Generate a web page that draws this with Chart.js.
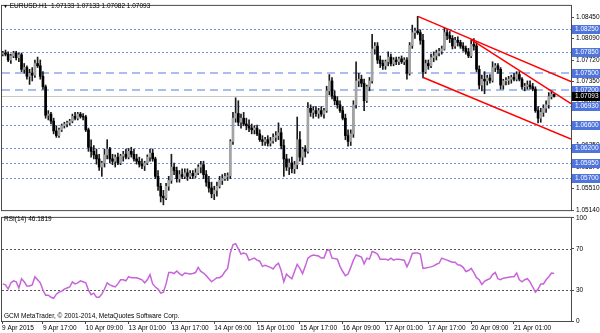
<!DOCTYPE html>
<html>
<head>
<meta charset="utf-8">
<script src="https://cdn.jsdelivr.net/npm/chart.js@4.4.1/dist/chart.umd.min.js"></script>
<style>
  html, body { margin: 0; padding: 0; background: #fff; }
  #wrap { position: relative; width: 600px; height: 333px; overflow: hidden;
          font-family: "Liberation Sans", Arial, sans-serif; }
  #cMain { position: absolute; left: 0; top: 0; }
  #cRsi  { position: absolute; left: 0; top: 212px; }
  .txt { position: absolute; font-size: 6.5px; line-height: 8px; color: #000; white-space: nowrap; }
</style>
</head>
<body>
<div id="wrap">
  <canvas id="cMain" width="600" height="216"></canvas>
  <canvas id="cRsi" width="600" height="121"></canvas>
  <div class="txt" style="left:3px;top:2px;"><span style="font-size:5px;">&#9660;</span> EURUSD.H1&nbsp; 1.07133 1.07133 1.07082 1.07093</div>
  <div class="txt" style="left:4px;top:215px;">RSI(14) 46.1819</div>
  <div class="txt" style="left:4px;top:312px;">GCM MetaTrader, © 2001-2014, MetaQuotes Software Corp.</div>
</div>
<script>
// EURUSD H1, 9 Apr -> 21 Apr 2015, una candela per ora (indice 0..206)
const opens = [
  1.0782, 1.0784, 1.0782, 1.0772, 1.0779, 1.0784, 1.0776, 1.0781, 1.0756, 1.0759,
  1.0744, 1.0749, 1.0746, 1.0766, 1.0762, 1.0744, 1.0726, 1.0677, 1.0679, 1.0667,
  1.0650, 1.0642, 1.0652, 1.0659, 1.0662, 1.0664, 1.0667, 1.0675, 1.0672, 1.0679,
  1.0675, 1.0674, 1.0652, 1.0622, 1.0615, 1.0609, 1.0602, 1.0588, 1.0595, 1.0609,
  1.0619, 1.0602, 1.0598, 1.0605, 1.0595, 1.0607, 1.0610, 1.0605, 1.0615, 1.0610,
  1.0602, 1.0598, 1.0593, 1.0590, 1.0595, 1.0605, 1.0612, 1.0602, 1.0572, 1.0555,
  1.0538, 1.0535, 1.0555, 1.0565, 1.0588, 1.0582, 1.0568, 1.0575, 1.0572, 1.0578,
  1.0572, 1.0577, 1.0573, 1.0578, 1.0588, 1.0592, 1.0575, 1.0562, 1.0552, 1.0542,
  1.0548, 1.0555, 1.0565, 1.0568, 1.0572, 1.0573, 1.0632, 1.0672, 1.0680, 1.0665,
  1.0672, 1.0662, 1.0659, 1.0655, 1.0652, 1.0655, 1.0645, 1.0635, 1.0632, 1.0635,
  1.0629, 1.0633, 1.0639, 1.0642, 1.0647, 1.0625, 1.0602, 1.0588, 1.0595, 1.0585,
  1.0592, 1.0635, 1.0605, 1.0619, 1.0615, 1.0689, 1.0682, 1.0685, 1.0680, 1.0685,
  1.0679, 1.0685, 1.0719, 1.0736, 1.0710, 1.0702, 1.0695, 1.0685, 1.0672, 1.0642,
  1.0632, 1.0645, 1.0695, 1.0736, 1.0739, 1.0732, 1.0702, 1.0726, 1.0736, 1.0791,
  1.0796, 1.0772, 1.0766, 1.0762, 1.0769, 1.0777, 1.0766, 1.0772, 1.0769, 1.0774,
  1.0769, 1.0772, 1.0749, 1.0797, 1.0819, 1.0822, 1.0819, 1.0806, 1.0752, 1.0766,
  1.0762, 1.0776, 1.0779, 1.0784, 1.0787, 1.0791, 1.0819, 1.0814, 1.0809, 1.0796,
  1.0806, 1.0802, 1.0796, 1.0792, 1.0786, 1.0779, 1.0799, 1.0796, 1.0756, 1.0729,
  1.0739, 1.0736, 1.0741, 1.0737, 1.0759, 1.0762, 1.0756, 1.0729, 1.0736, 1.0737,
  1.0739, 1.0742, 1.0739, 1.0747, 1.0739, 1.0726, 1.0727, 1.0729, 1.0726, 1.0722,
  1.0685, 1.0672, 1.0682, 1.0689, 1.0695, 1.0709, 1.07133
];
const highs = [
  1.0787, 1.0789, 1.0786, 1.0782, 1.0787, 1.0787, 1.0784, 1.0784, 1.0766, 1.0762,
  1.0756, 1.0759, 1.0772, 1.0777, 1.0772, 1.0752, 1.0729, 1.0685, 1.0682, 1.0672,
  1.0659, 1.0655, 1.0662, 1.0665, 1.0667, 1.0670, 1.0679, 1.0682, 1.0682, 1.0682,
  1.0680, 1.0677, 1.0655, 1.0635, 1.0625, 1.0619, 1.0610, 1.0598, 1.0619, 1.0635,
  1.0622, 1.0610, 1.0609, 1.0612, 1.0610, 1.0615, 1.0619, 1.0620, 1.0622, 1.0619,
  1.0610, 1.0605, 1.0602, 1.0598, 1.0609, 1.0619, 1.0619, 1.0605, 1.0582, 1.0560,
  1.0548, 1.0560, 1.0572, 1.0610, 1.0595, 1.0588, 1.0582, 1.0585, 1.0585, 1.0585,
  1.0582, 1.0582, 1.0585, 1.0592, 1.0598, 1.0598, 1.0582, 1.0572, 1.0562, 1.0555,
  1.0562, 1.0572, 1.0575, 1.0577, 1.0578, 1.0635, 1.0682, 1.0707, 1.0702, 1.0679,
  1.0682, 1.0672, 1.0669, 1.0662, 1.0659, 1.0660, 1.0652, 1.0642, 1.0639, 1.0642,
  1.0639, 1.0645, 1.0649, 1.0664, 1.0655, 1.0635, 1.0610, 1.0602, 1.0605, 1.0598,
  1.0674, 1.0649, 1.0622, 1.0625, 1.0699, 1.0695, 1.0692, 1.0692, 1.0689, 1.0692,
  1.0689, 1.0727, 1.0747, 1.0742, 1.0719, 1.0709, 1.0702, 1.0692, 1.0679, 1.0652,
  1.0652, 1.0702, 1.0769, 1.0749, 1.0746, 1.0739, 1.0729, 1.0742, 1.0816, 1.0802,
  1.0802, 1.0779, 1.0772, 1.0772, 1.0786, 1.0782, 1.0776, 1.0777, 1.0777, 1.0779,
  1.0776, 1.0776, 1.0802, 1.0832, 1.0827, 1.0847, 1.0824, 1.0816, 1.0772, 1.0772,
  1.0782, 1.0786, 1.0789, 1.0792, 1.0796, 1.0827, 1.0824, 1.0821, 1.0814, 1.0811,
  1.0812, 1.0806, 1.0802, 1.0796, 1.0792, 1.0807, 1.0809, 1.0802, 1.0762, 1.0746,
  1.0752, 1.0746, 1.0747, 1.0769, 1.0766, 1.0766, 1.0759, 1.0739, 1.0742, 1.0744,
  1.0746, 1.0749, 1.0752, 1.0752, 1.0742, 1.0732, 1.0736, 1.0736, 1.0732, 1.0726,
  1.0692, 1.0689, 1.0695, 1.0702, 1.0716, 1.0719, 1.07133
];
const lows = [
  1.0779, 1.0779, 1.0769, 1.0766, 1.0776, 1.0772, 1.0769, 1.0752, 1.0749, 1.0739,
  1.0730, 1.0736, 1.0742, 1.0759, 1.0739, 1.0722, 1.0672, 1.0669, 1.0662, 1.0645,
  1.0639, 1.0639, 1.0649, 1.0655, 1.0657, 1.0660, 1.0664, 1.0669, 1.0669, 1.0672,
  1.0669, 1.0649, 1.0615, 1.0605, 1.0602, 1.0593, 1.0582, 1.0572, 1.0588, 1.0602,
  1.0595, 1.0592, 1.0588, 1.0592, 1.0592, 1.0598, 1.0602, 1.0602, 1.0605, 1.0598,
  1.0593, 1.0588, 1.0585, 1.0582, 1.0592, 1.0598, 1.0598, 1.0568, 1.0548, 1.0528,
  1.0523, 1.0532, 1.0548, 1.0560, 1.0575, 1.0562, 1.0562, 1.0568, 1.0568, 1.0565,
  1.0568, 1.0568, 1.0570, 1.0575, 1.0578, 1.0568, 1.0555, 1.0545, 1.0535, 1.0532,
  1.0538, 1.0552, 1.0558, 1.0565, 1.0565, 1.0568, 1.0627, 1.0665, 1.0659, 1.0655,
  1.0659, 1.0652, 1.0649, 1.0645, 1.0645, 1.0642, 1.0632, 1.0625, 1.0625, 1.0624,
  1.0624, 1.0629, 1.0632, 1.0635, 1.0619, 1.0572, 1.0582, 1.0575, 1.0578, 1.0577,
  1.0585, 1.0598, 1.0592, 1.0605, 1.0612, 1.0675, 1.0672, 1.0675, 1.0672, 1.0675,
  1.0672, 1.0682, 1.0712, 1.0705, 1.0695, 1.0689, 1.0682, 1.0669, 1.0635, 1.0624,
  1.0625, 1.0639, 1.0689, 1.0726, 1.0726, 1.0685, 1.0699, 1.0719, 1.0732, 1.0782,
  1.0766, 1.0759, 1.0756, 1.0756, 1.0762, 1.0762, 1.0762, 1.0764, 1.0764, 1.0766,
  1.0764, 1.0739, 1.0746, 1.0792, 1.0809, 1.0816, 1.0799, 1.0741, 1.0749, 1.0756,
  1.0759, 1.0769, 1.0772, 1.0779, 1.0782, 1.0789, 1.0807, 1.0802, 1.0791, 1.0792,
  1.0796, 1.0792, 1.0787, 1.0782, 1.0776, 1.0776, 1.0789, 1.0752, 1.0722, 1.0719,
  1.0714, 1.0729, 1.0732, 1.0734, 1.0752, 1.0749, 1.0722, 1.0722, 1.0729, 1.0730,
  1.0732, 1.0736, 1.0736, 1.0736, 1.0722, 1.0719, 1.0722, 1.0722, 1.0719, 1.0682,
  1.0664, 1.0665, 1.0675, 1.0682, 1.0689, 1.0705, 1.07082
];
const closes = [
  1.0784, 1.0782, 1.0772, 1.0779, 1.0784, 1.0776, 1.0781, 1.0756, 1.0759, 1.0744,
  1.0749, 1.0746, 1.0766, 1.0762, 1.0744, 1.0726, 1.0677, 1.0679, 1.0667, 1.0650,
  1.0642, 1.0652, 1.0659, 1.0662, 1.0664, 1.0667, 1.0675, 1.0672, 1.0679, 1.0675,
  1.0674, 1.0652, 1.0622, 1.0615, 1.0609, 1.0602, 1.0588, 1.0595, 1.0609, 1.0619,
  1.0602, 1.0598, 1.0605, 1.0595, 1.0607, 1.0610, 1.0605, 1.0615, 1.0610, 1.0602,
  1.0598, 1.0593, 1.0590, 1.0595, 1.0605, 1.0612, 1.0602, 1.0572, 1.0555, 1.0538,
  1.0535, 1.0555, 1.0565, 1.0588, 1.0582, 1.0568, 1.0575, 1.0572, 1.0578, 1.0572,
  1.0577, 1.0573, 1.0578, 1.0588, 1.0592, 1.0575, 1.0562, 1.0552, 1.0542, 1.0548,
  1.0555, 1.0565, 1.0568, 1.0572, 1.0573, 1.0632, 1.0672, 1.0680, 1.0665, 1.0672,
  1.0662, 1.0659, 1.0655, 1.0652, 1.0655, 1.0645, 1.0635, 1.0632, 1.0635, 1.0629,
  1.0633, 1.0639, 1.0642, 1.0647, 1.0625, 1.0602, 1.0588, 1.0595, 1.0585, 1.0592,
  1.0635, 1.0605, 1.0619, 1.0615, 1.0689, 1.0682, 1.0685, 1.0680, 1.0685, 1.0679,
  1.0685, 1.0719, 1.0736, 1.0710, 1.0702, 1.0695, 1.0685, 1.0672, 1.0642, 1.0632,
  1.0645, 1.0695, 1.0736, 1.0739, 1.0732, 1.0702, 1.0726, 1.0736, 1.0791, 1.0796,
  1.0772, 1.0766, 1.0762, 1.0769, 1.0777, 1.0766, 1.0772, 1.0769, 1.0774, 1.0769,
  1.0772, 1.0749, 1.0797, 1.0819, 1.0822, 1.0819, 1.0806, 1.0752, 1.0766, 1.0762,
  1.0776, 1.0779, 1.0784, 1.0787, 1.0791, 1.0819, 1.0814, 1.0809, 1.0796, 1.0806,
  1.0802, 1.0796, 1.0792, 1.0786, 1.0779, 1.0799, 1.0796, 1.0756, 1.0729, 1.0739,
  1.0736, 1.0741, 1.0737, 1.0759, 1.0762, 1.0756, 1.0729, 1.0736, 1.0737, 1.0739,
  1.0742, 1.0739, 1.0747, 1.0739, 1.0726, 1.0727, 1.0729, 1.0726, 1.0722, 1.0685,
  1.0672, 1.0682, 1.0689, 1.0695, 1.0709, 1.07133, 1.07093
];
const rsiValues = [
  36, 35, 31, 37, 39, 38, 32, 41, 38, 34,
  34, 35, 43, 40, 37, 30, 25, 25, 23, 22,
  26, 28, 29, 31, 32, 33, 38, 36, 37, 39,
  38, 37, 30, 25.5, 27, 23, 23, 26, 31, 37,
  35, 34, 33, 36, 40, 40, 39, 43, 42, 42,
  42, 41, 40, 37, 40, 45, 36, 33, 31, 27,
  28, 36, 47, 47, 46, 48.5, 46, 44, 46.5, 46,
  45.5, 46, 47, 52, 48, 46.5, 44, 41, 38, 40,
  42, 42, 44, 48, 51, 66, 74, 75, 70, 65,
  66, 65, 59, 60, 61, 59, 58, 53, 54, 53,
  52, 50.5, 54, 56, 49, 38, 45.5, 43, 41, 48,
  55, 51, 46, 53, 61, 63, 64, 63.5, 63, 61,
  61, 68, 69, 61, 60.5, 60, 53, 48, 44, 45.5,
  52, 59, 64, 63, 62, 55.5, 61, 60, 67.5, 66.5,
  65, 60, 60, 60, 59, 61, 59, 60, 60, 59.5,
  59, 52.5, 58, 65.5, 66, 66, 65, 51, 51.5, 52,
  52.5, 53.5, 55, 56, 61, 60, 59, 58, 57, 57,
  54.5, 54, 52, 48, 49, 51, 47, 42, 40, 35.5,
  38.5, 40, 41, 45, 47, 41, 40, 41.5, 42, 42.5,
  43, 43, 46.5, 40, 38, 40, 41, 38, 33, 28,
  31, 36, 36, 40, 43, 46.5, 46.1819
];

// asse tempo: posizione (indice candela) e testo delle etichette
const timeTickPos = [-0.3, 15, 31, 47, 63, 79, 95, 111, 127, 143, 159, 175, 191];
const timeTickLabels = ['9 Apr 2015', '9 Apr 17:00', '10 Apr 09:00', '13 Apr 01:00', '13 Apr 17:00',
  '14 Apr 09:00', '15 Apr 01:00', '15 Apr 17:00', '16 Apr 09:00', '17 Apr 01:00',
  '17 Apr 17:00', '20 Apr 09:00', '21 Apr 01:00'];

// asse prezzi
const priceTicks = [1.0845, 1.0809, 1.0772, 1.0735, 1.0698, 1.0661, 1.0625, 1.0587, 1.0551, 1.0514];
const dottedLevels = [1.0825, 1.0785, 1.0693, 1.0660, 1.0620, 1.0595, 1.0570];
const dashedLevels = [1.0750, 1.0720];
const lastPrice = 1.07093;
const rsiTicks = [0, 30, 70, 100];
const rsiLevels = [30, 70];

// linee di tendenza (indice candela, prezzo)
const trendUpper = [{ x: 155.1, y: 1.0847 }, { x: 212.3, y: 1.0735 }];
const trendSteep = [{ x: 175, y: 1.0807 }, { x: 212.3, y: 1.0697 }];
const trendLower = [{ x: 157.1, y: 1.0742 }, { x: 212.3, y: 1.0636 }];

const X_MIN = -0.3, X_MAX = 212.3;
const PRICE_MIN = 1.0514, PRICE_MAX = 1.0865;

const BULL = '#a3a3a3';
const BEAR = '#000000';
const WICK = '#1a1a1a';
const FRAME = '#4a4a4a';
const FONT = '"Liberation Sans", Arial, sans-serif';

Chart.defaults.font.family = FONT;
Chart.defaults.font.size = 6.5;
Chart.defaults.color = '#000';
Chart.defaults.animation = false;

// linee orizzontali (livelli) dentro l'area del grafico
const levelLines = {
  id: 'levelLines',
  beforeDatasetsDraw(chart, args, opts) {
    const { ctx, chartArea: a, scales: { y } } = chart;
    ctx.save();
    ctx.beginPath();
    ctx.rect(a.left, a.top, a.right - a.left, a.bottom - a.top);
    ctx.clip();
    for (const lv of opts.lines) {
      const w = lv.width;
      const py = Math.round(y.getPixelForValue(lv.value)) + (w % 2 ? 0.5 : 0);
      ctx.strokeStyle = lv.color;
      ctx.lineWidth = w;
      ctx.setLineDash(lv.dash);
      ctx.beginPath();
      ctx.moveTo(a.left, py);
      ctx.lineTo(a.right, py);
      ctx.stroke();
    }
    ctx.restore();
  },
  afterDraw(chart, args, opts) {
    // etichette evidenziate sull'asse destro
    const { ctx, scales: { y } } = chart;
    ctx.save();
    ctx.font = '6.5px ' + FONT;
    ctx.textBaseline = 'middle';
    for (const b of opts.boxes || []) {
      const py = Math.round(y.getPixelForValue(b.value));
      ctx.fillStyle = b.bg;
      ctx.fillRect(y.left + 1, py - 4, y.right - y.left - 1, 9);
      ctx.fillStyle = '#fff';
      ctx.fillText(b.value.toFixed(5), y.left + 4, py + 0.5);
    }
    ctx.restore();
  }
};

// cornice del pannello
const frame = {
  id: 'frame',
  afterDraw(chart) {
    const { ctx, chartArea: a } = chart;
    ctx.save();
    ctx.strokeStyle = FRAME;
    ctx.lineWidth = 1;
    ctx.strokeRect(a.left - 0.5, a.top - 0.5, a.right - a.left + 1, a.bottom - a.top + 1);
    ctx.restore();
  }
};

const idx = closes.map((_, i) => i);
const bodyColors = closes.map((c, i) => (c >= opens[i] ? BULL : BEAR));

const levelDefs = [
  ...dottedLevels.map(v => ({ value: v, color: '#6f8fe8', width: 1, dash: [2, 2] })),
  ...dashedLevels.map(v => ({ value: v, color: '#aabdf0', width: 2, dash: [8, 5] })),
  { value: lastPrice, color: '#c8c8c8', width: 1, dash: [] }
];
const boxDefs = [
  ...dottedLevels.map(v => ({ value: v, bg: '#4f74dc' })),
  ...dashedLevels.map(v => ({ value: v, bg: '#4f74dc' })),
  { value: lastPrice, bg: '#000' }
];

const redLine = (data) => ({
  type: 'line', data, borderColor: '#ff0000', borderWidth: 1.5,
  pointRadius: 0, fill: false, order: 0
});

new Chart(document.getElementById('cMain'), {
  type: 'bar',
  data: {
    datasets: [
      redLine(trendUpper),
      redLine(trendSteep),
      redLine(trendLower),
      {
        label: 'body',
        data: idx.map(i => ({ x: i, y: [opens[i], closes[i]] })),
        backgroundColor: bodyColors,
        borderWidth: 0,
        barThickness: 2,
        grouped: false,
        order: 1
      },
      {
        label: 'wick',
        data: idx.map(i => ({ x: i, y: [lows[i], highs[i]] })),
        backgroundColor: WICK,
        borderWidth: 0,
        barThickness: 1,
        grouped: false,
        order: 2
      }
    ]
  },
  options: {
    responsive: false,
    animation: false,
    events: [],
    layout: { padding: { left: 2, top: 2, right: 0, bottom: 4 } },
    plugins: {
      legend: { display: false },
      tooltip: { enabled: false },
      levelLines: { lines: levelDefs, boxes: boxDefs }
    },
    scales: {
      x: { type: 'linear', min: X_MIN, max: X_MAX, offset: false, display: false, grid: { offset: false } },
      y: {
        type: 'linear', position: 'right', min: PRICE_MIN, max: PRICE_MAX,
        afterFit: s => { s.width = 29; },
        afterBuildTicks: s => { s.ticks = priceTicks.map(v => ({ value: v })); },
        ticks: { autoSkip: false, padding: 2, callback: v => v.toFixed(5) },
        grid: { drawOnChartArea: false, drawTicks: true, tickLength: 3, color: FRAME },
        border: { display: false }
      }
    }
  },
  plugins: [levelLines, frame]
});

new Chart(document.getElementById('cRsi'), {
  type: 'line',
  data: {
    datasets: [{
      label: 'RSI(14)',
      data: idx.map(i => ({ x: i, y: rsiValues[i] })),
      borderColor: '#c764d9',
      borderWidth: 1.5,
      pointRadius: 0,
      tension: 0,
      fill: false
    }]
  },
  options: {
    responsive: false,
    animation: false,
    events: [],
    layout: { padding: { left: 2, top: 3, right: 0, bottom: 0 } },
    plugins: {
      legend: { display: false },
      tooltip: { enabled: false },
      levelLines: { lines: rsiLevels.map(v => ({ value: v, color: '#555', width: 1, dash: [2, 2] })) }
    },
    scales: {
      x: {
        type: 'linear', min: X_MIN, max: X_MAX, offset: false,
        afterFit: s => { s.height = 12; },
        afterBuildTicks: s => { s.ticks = timeTickPos.map(v => ({ value: v })); },
        ticks: {
          autoSkip: false, maxRotation: 0, align: 'start', padding: 0,
          callback: (v, i) => timeTickLabels[i]
        },
        grid: { drawOnChartArea: false, drawTicks: true, tickLength: 3, color: FRAME },
        border: { display: false }
      },
      y: {
        type: 'linear', position: 'right', min: 0, max: 100,
        afterFit: s => { s.width = 29; },
        afterBuildTicks: s => { s.ticks = rsiTicks.map(v => ({ value: v })); },
        ticks: {
          autoSkip: false, padding: 2,
          // MT tiene l'etichetta 100 appena dentro il pannello
          callback: v => String(v)
        },
        grid: { drawOnChartArea: false, drawTicks: true, tickLength: 3, color: FRAME },
        border: { display: false }
      }
    }
  },
  plugins: [levelLines, frame]
});
</script>
</body>
</html>
